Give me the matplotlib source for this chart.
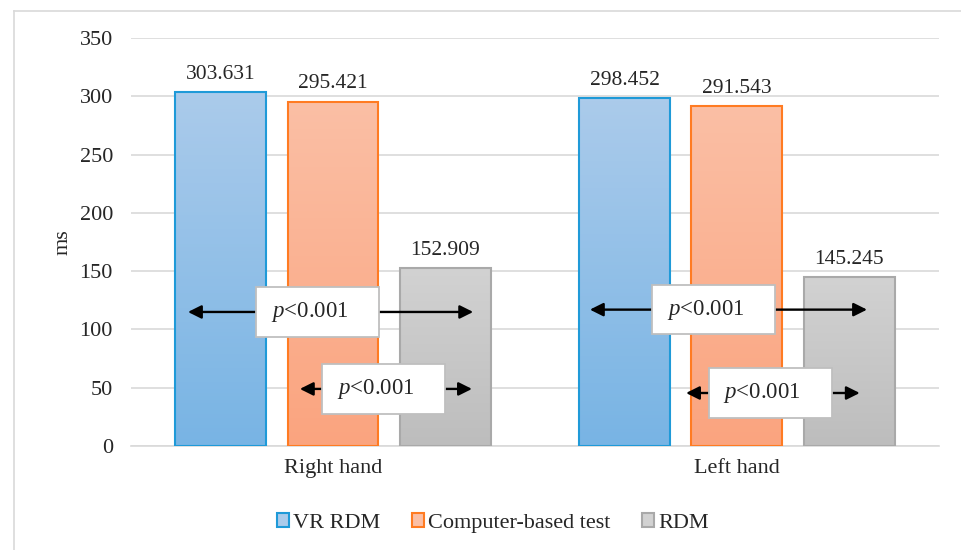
import numpy as np
import matplotlib
matplotlib.use("Agg")
import matplotlib.pyplot as plt
import matplotlib.patches as mpatches
from matplotlib.lines import Line2D

plt.rcParams['font.family'] = ['Liberation Serif', 'DejaVu Serif']
plt.rcParams['mathtext.fontset'] = 'custom'
plt.rcParams['mathtext.it'] = 'Liberation Serif:italic'
plt.rcParams['mathtext.rm'] = 'Liberation Serif'

# data
groups = ['Right hand', 'Left hand']
series = ['VR RDM', 'Computer-based test', 'RDM']
vr_rdm = [303.631, 298.452]
computer_test = [295.421, 291.543]
rdm = [152.909, 145.245]
values = [vr_rdm, computer_test, rdm]
yticks = [0, 50, 100, 150, 200, 250, 300, 350]
p_label = r'$p$<0.001'

# gradient top/bottom colours and edge colour for each series
grad_top = ['#abcbeb', '#fbbfa5', '#d2d2d2']
grad_bot = ['#78b4e4', '#faa47f', '#bdbdbd']
edges = ['#1f9ad8', '#ff7b22', '#a9a9a9']

# annotation layout: (group, left tip offset, right tip offset, y, box offset)
arrows = [
    (0, -0.359, 0.347, 115, -0.038),
    (0, -0.082, 0.344, 49, 0.125),
    (1, -0.364, 0.322, 117, -0.058),
    (1, -0.126, 0.304, 45.5, 0.082),
]
box_w = 0.3045   # in category units
box_h = 42.5     # in ms

fig = plt.figure(figsize=(9.62, 5.5), dpi=100)
ax = fig.add_axes([0.1362, 0.189, 0.8398, 0.742])

x = np.arange(len(groups))
width = 0.225
offsets = [-0.278, 0, 0.278]

for i, vals in enumerate(values):
    bars = ax.bar(x + offsets[i], vals, width, facecolor='none',
                  edgecolor=edges[i], linewidth=1.5, zorder=3)
    for b, v in zip(bars, vals):
        c1 = np.array(matplotlib.colors.to_rgb(grad_top[i]))
        c2 = np.array(matplotlib.colors.to_rgb(grad_bot[i]))
        t = np.linspace(0, 1, 100)[:, None]
        img = (c1 * (1 - t) + c2 * t)[:, None, :]
        x0 = b.get_x()
        im = ax.imshow(img, extent=[x0, x0 + width, 0, v], aspect='auto',
                       origin='upper', zorder=2)
        im.set_clip_path(b)
        ax.text(b.get_x() + width / 2, v + 7, '%.3f' % v, ha='center',
                va='bottom', fontsize=15.5, color='#262626', zorder=5)

for g, lt, rt, yv, bo in arrows:
    for tip in (lt, rt):
        ax.annotate('', xy=(g + tip, yv), xytext=(g + bo, yv),
                    arrowprops=dict(arrowstyle='-|>', color='black', lw=1.7,
                                    mutation_scale=20, shrinkA=0, shrinkB=0),
                    zorder=6)
    ax.add_patch(mpatches.Rectangle((g + bo - box_w / 2, yv - box_h / 2), box_w, box_h,
                                    facecolor='white', edgecolor='#bfbfbf',
                                    linewidth=1.3, zorder=7))
    ax.text(g + bo - 0.02, yv, p_label, ha='center', va='center', fontsize=16.5,
            color='#262626', zorder=8)

ax.set_xlim(-0.5, 1.5)
ax.set_ylim(0, 350)
ax.set_yticks(yticks)
ax.set_xticks(x)
ax.set_xticklabels(groups)
ax.tick_params(axis='both', length=0, labelsize=16, colors='#262626')
ax.tick_params(axis='y', pad=13)
ax.tick_params(axis='x', pad=9)
ax.yaxis.grid(True, color='#d9d9d9', linewidth=1.2, zorder=0)
ax.set_axisbelow(True)
for s in ['top', 'right', 'left']:
    ax.spines[s].set_visible(False)
ax.spines['bottom'].set_color('#d9d9d9')
ax.spines['bottom'].set_linewidth(1.2)
ax.set_ylabel('ms', fontsize=16, color='#262626', labelpad=5)

handles = [mpatches.Patch(facecolor=grad_top[i], edgecolor=edges[i],
                          linewidth=1.5, label=series[i]) for i in range(3)]
fig.legend(handles=handles, loc='center', bbox_to_anchor=(493 / 962, 1 - 523 / 550),
           ncol=3, frameon=False, fontsize=16, handlelength=0.55, handleheight=0.55,
           handletextpad=0.2, columnspacing=1.4, labelcolor='#262626')

# outer chart frame
fig.add_artist(Line2D([14 / 962, 14 / 962], [0, 1 - 11 / 550], color='#d9d9d9',
                      linewidth=1.2, transform=fig.transFigure))
fig.add_artist(Line2D([14 / 962, 1], [1 - 11 / 550, 1 - 11 / 550], color='#d9d9d9',
                      linewidth=1.2, transform=fig.transFigure))

fig.savefig('out.png', dpi=100)
